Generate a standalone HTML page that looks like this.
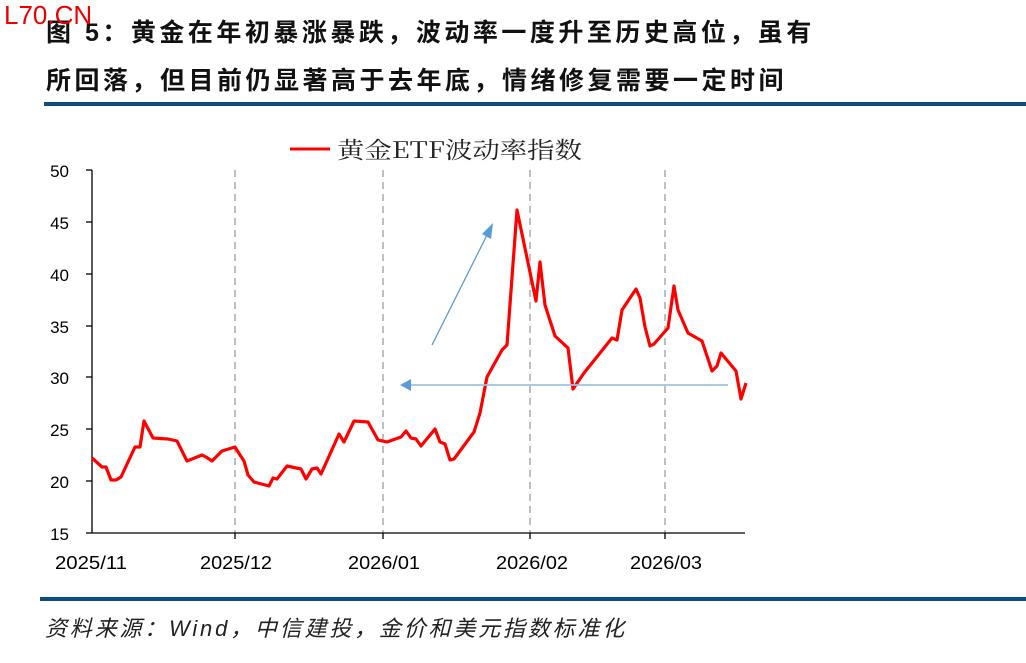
<!DOCTYPE html>
<html><head><meta charset="utf-8"><style>
body{margin:0;background:#fff;}
.w{position:relative;width:1026px;height:663px;overflow:hidden;background:#fff;font-family:"Liberation Sans","Noto Sans CJK SC",sans-serif;}
.t{position:absolute;left:46px;font-size:25px;font-weight:bold;color:#111;white-space:nowrap;letter-spacing:3.5px;}
.src{position:absolute;left:45px;top:611px;font-size:22px;font-style:italic;color:#222;white-space:nowrap;letter-spacing:2.8px;}
</style></head><body><div class="w">
<div class="t" style="top:13px">图 5：黄金在年初暴涨暴跌，波动率一度升至历史高位，虽有</div>
<div class="t" style="top:61px">所回落，但目前仍显著高于去年底，情绪修复需要一定时间</div>
<div style="position:absolute;left:4px;top:0px;color:#e00;font-size:26px;">L70.CN</div>
<div style="position:absolute;left:44px;top:102px;width:982px;height:4px;background:#0f4c7f"></div>
<div style="position:absolute;left:40px;top:597px;width:986px;height:4px;background:#0f4c7f"></div>
<div class="src">资料来源：Wind，中信建投，金价和美元指数标准化</div>
<svg width="1026" height="663" style="position:absolute;left:0;top:0" font-family="Liberation Sans, sans-serif">
<g stroke="#aaa" stroke-width="1.5" stroke-dasharray="7,5">
<line x1="235" y1="170" x2="235" y2="533"/><line x1="383" y1="170" x2="383" y2="533"/><line x1="530" y1="170" x2="530" y2="533"/><line x1="665" y1="170" x2="665" y2="533"/>
</g>
<g stroke="#000" stroke-width="1.3">
<line x1="92" y1="170" x2="92" y2="533"/><line x1="92" y1="533" x2="745" y2="533"/>
<line x1="86" y1="170" x2="92" y2="170"/><line x1="86" y1="222" x2="92" y2="222"/><line x1="86" y1="274" x2="92" y2="274"/><line x1="86" y1="326" x2="92" y2="326"/><line x1="86" y1="377" x2="92" y2="377"/><line x1="86" y1="429" x2="92" y2="429"/><line x1="86" y1="481" x2="92" y2="481"/><line x1="86" y1="533" x2="92" y2="533"/>
<line x1="235" y1="533" x2="235" y2="539"/><line x1="383" y1="533" x2="383" y2="539"/><line x1="530" y1="533" x2="530" y2="539"/><line x1="665" y1="533" x2="665" y2="539"/>
</g>
<g font-size="17" text-anchor="end" fill="#000">
<text x="69" y="177">50</text><text x="69" y="229">45</text><text x="69" y="281">40</text><text x="69" y="333">35</text><text x="69" y="384">30</text><text x="69" y="436">25</text><text x="69" y="488">20</text><text x="69" y="540">15</text>
</g>
<g font-size="18" fill="#000">
<text x="55" y="569" textLength="72" lengthAdjust="spacingAndGlyphs">2025/11</text>
<text x="200" y="569" textLength="72" lengthAdjust="spacingAndGlyphs">2025/12</text>
<text x="348" y="569" textLength="72" lengthAdjust="spacingAndGlyphs">2026/01</text>
<text x="496" y="569" textLength="72" lengthAdjust="spacingAndGlyphs">2026/02</text>
<text x="630" y="569" textLength="72" lengthAdjust="spacingAndGlyphs">2026/03</text>
</g>
<line x1="290" y1="149" x2="330" y2="149" stroke="#f00" stroke-width="3"/>
<text x="337" y="158" font-size="23" fill="#222" font-family="Noto Serif CJK SC, Liberation Serif, serif" textLength="245" lengthAdjust="spacingAndGlyphs">黄金ETF波动率指数</text>
<polyline fill="none" stroke="#f00" stroke-width="3.2" stroke-linejoin="round" points="92,458 102,467 106,467 111,480 116,480 121,477 135,447 140,447 144,421 153,438 168,439 177,441 187,461 202,455 206,457 212,461 222,451 235,447 240,455 244,461 248,475 254,482 269,486 273,478 277,479 287,466 301,469 306,479 312,469 317,468 321,474 335,443 339,434 344,442 354,421 368,422 378,440 387,442 401,437 406,431 411,438 416,439 421,446 435,429 440,442 445,444 450,460 454,459 474,432 480,413 487,377 502,350 507,345 517,210 536,301 540,262 545,305 555,336 568,348 573,389 584,373 612,338 617,340 622,310 636,289 640,298 645,327 650,346 654,344 668,328 674,286 678,310 688,333 702,341 712,371 717,366 721,353 736,371 741,399 746,383"/>
<line x1="432" y1="345" x2="487" y2="235" stroke="#5b9bd5" stroke-width="1.3"/>
<polygon points="493,223 482,234 491,239" fill="#5b9bd5"/>
<line x1="410" y1="385" x2="728" y2="385" stroke="#9dc3e6" stroke-width="1.8"/>
<polygon points="400,385 411,379 411,391" fill="#5b9bd5"/>
</svg>
</div></body></html>
